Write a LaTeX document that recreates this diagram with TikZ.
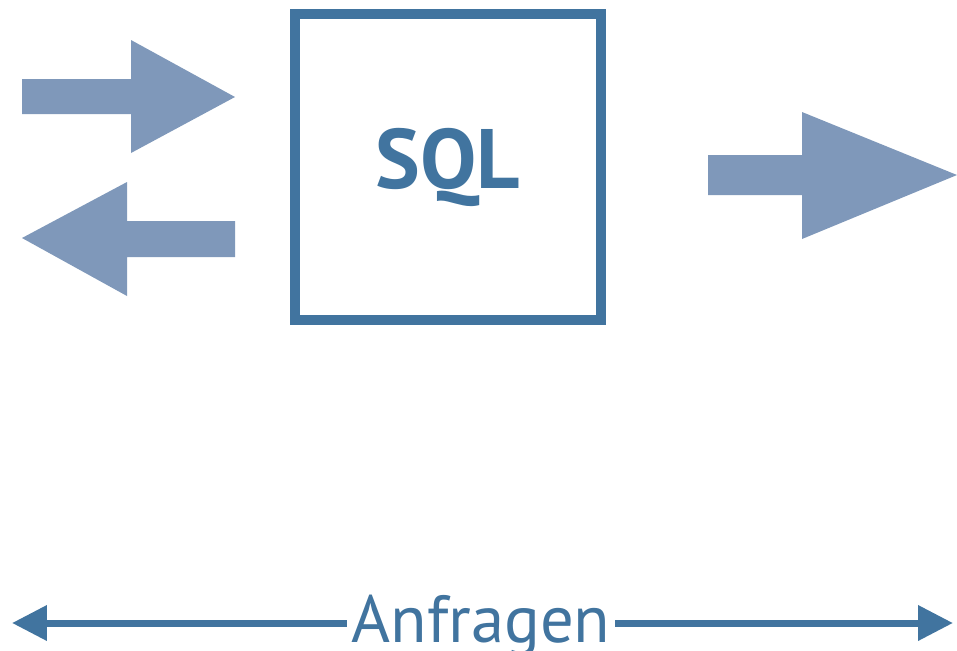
\documentclass[tikz,border=0pt]{standalone}
\usepackage{fontspec}
\setmainfont{PT Sans}
\usetikzlibrary{arrows.meta,positioning}

\definecolor{sqlblue}{HTML}{41749F}
\definecolor{flowblue}{HTML}{7F98BA}

\tikzset{
  sqlbox/.style={draw=sqlblue, line width=0.2cm, minimum width=6.12cm,
    minimum height=6.12cm, text=sqlblue, font=\bfseries\fontsize{48}{50}\selectfont},
  flow/.style={fill=flowblue},
  span/.style={draw=sqlblue, line width=0.14cm,
    {Triangle[length=0.7cm,width=0.68cm]}-{Triangle[length=0.7cm,width=0.68cm]}},
  spanlabel/.style={text=sqlblue, fill=white, inner xsep=0.1cm, inner ysep=0.05cm,
    font=\fontsize{38}{40}\selectfont}
}

\begin{document}
\begin{tikzpicture}[x=0.02cm,y=-0.02cm]
  \useasboundingbox (0,0) rectangle (957,650);
  % the SQL box
  \node[sqlbox] (sql) at (448,167) {SQL};
  % arrows in and out on the left
  \fill[flow] (22,79) -- (131,79) -- (131,40) -- (235,97) -- (131,153)
    -- (131,114) -- (22,114) -- cycle;
  \fill[flow] (235,221) -- (127,221) -- (127,182) -- (22,238) -- (127,296)
    -- (127,257) -- (235,257) -- cycle;
  % result arrow on the right
  \fill[flow] (708,155) -- (802,155) -- (802,112) -- (957,175) -- (802,239)
    -- (802,195) -- (708,195) -- cycle;
  % Anfragen span
  \coordinate (left) at (12,623);
  \coordinate (right) at (953,623);
  \draw[span] (left) -- (right);
  \node[spanlabel, anchor=base] (anf) at (481,642) {Anfragen};
\end{tikzpicture}
\end{document}
